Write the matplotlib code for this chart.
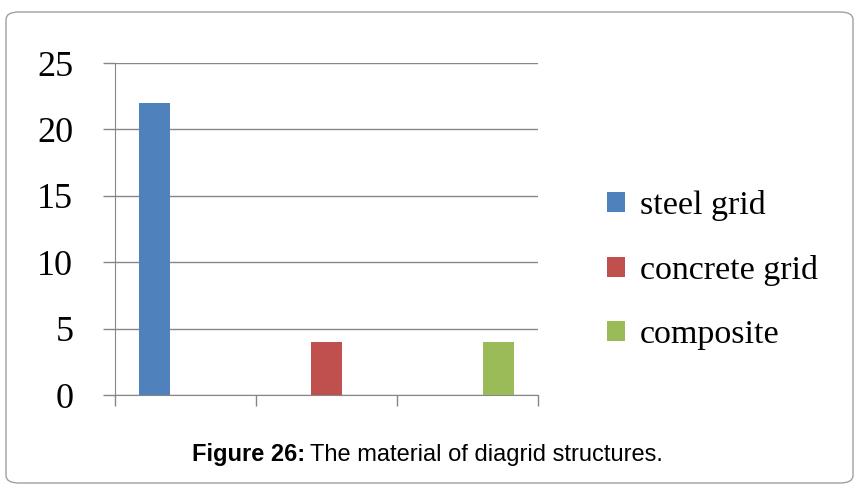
import numpy as np
import matplotlib.pyplot as plt
from matplotlib.patches import FancyBboxPatch

# data
categories = ['', '', '']
steel_grid = [22, 0, 0]
concrete_grid = [0, 4, 0]
composite = [0, 0, 4]
series_names = ['steel grid', 'concrete grid', 'composite']
colors = ['#4F81BD', '#C0504D', '#9BBB59']
yticks = [0, 5, 10, 15, 20, 25]

W, H = 867, 499
fig = plt.figure(figsize=(W / 100, H / 100), dpi=100)

# rounded frame around the whole figure
frame = FancyBboxPatch((6 / W, 16 / H), 847 / W, 471 / H,
                       boxstyle='round,pad=0,rounding_size=0.015',
                       transform=fig.transFigure, facecolor='none',
                       edgecolor='#A0A0A0', linewidth=1.0)
fig.patches.append(frame)

ax = fig.add_axes([115 / W, 1 - 395 / H, 423 / W, 332 / H])

x = np.arange(len(categories))
w = 0.222
for i, (vals, name, c) in enumerate(zip([steel_grid, concrete_grid, composite],
                                        series_names, colors)):
    ax.bar(x + (i - 1) * w, vals, width=w, color=c, label=name, zorder=3)

ax.set_xlim(-0.5, len(categories) - 0.5)
ax.set_ylim(0, 25)
ax.set_yticks(yticks)
ax.yaxis.grid(True, color='#868686', linewidth=1.0, zorder=0)
ax.tick_params(axis='y', length=9, width=1.0, color='#868686', pad=21,
               labelsize=26, labelfontfamily='Liberation Serif')
ax.set_xticks(np.arange(-0.5, len(categories), 1.0))
ax.set_xticklabels([])
ax.tick_params(axis='x', length=8, width=1.0, color='#868686', direction='out')

for s in ['top', 'right']:
    ax.spines[s].set_visible(False)
ax.spines['left'].set_color('#868686')
ax.spines['bottom'].set_color('#868686')

ax.legend(loc='center left', bbox_to_anchor=((590 - 115) / 423, (395 - 270) / 332),
          frameon=False, prop={'family': 'Liberation Serif', 'size': 24.5},
          handlelength=0.52, handleheight=0.52, handletextpad=0.45,
          labelspacing=1.0, borderpad=0)

# caption: bold label + regular text
cap_y = 1 - 455 / H
cap_b = fig.text(192 / W, cap_y, 'Figure 26:', ha='left', va='center',
                 fontsize=17, family='Liberation Sans', fontweight='bold')
fig.canvas.draw()
bb = cap_b.get_window_extent()
fig.text((bb.x1 + 5) / W, cap_y, 'The material of diagrid structures.',
         ha='left', va='center', fontsize=17, family='Liberation Sans')

fig.savefig('out.png', dpi=100)
